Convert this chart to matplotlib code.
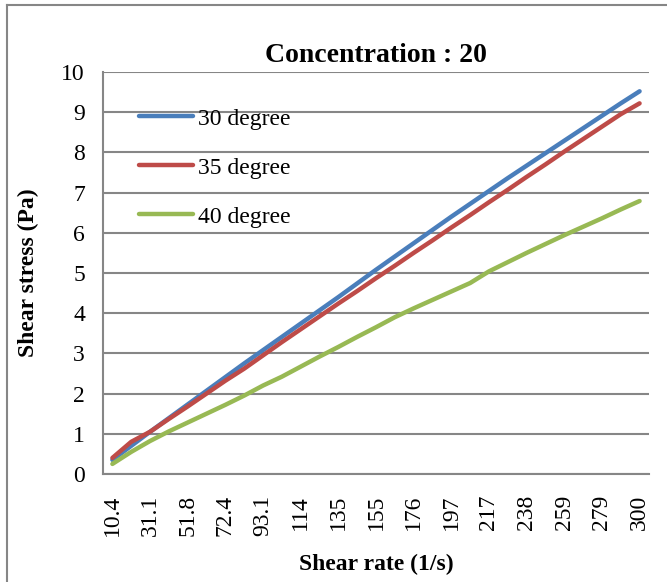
import matplotlib.pyplot as plt
from matplotlib.lines import Line2D

plt.rcParams['font.family'] = ['Liberation Serif', 'DejaVu Serif']

# shear rate categories (1/s), every other one is labelled on the axis
shear_rate = ['10.4', '20.7', '31.1', '41.4', '51.8', '62.1', '72.4', '82.8',
              '93.1', '103', '114', '124', '135', '145', '155', '166', '176',
              '186', '197', '207', '217', '228', '238', '248', '259', '269',
              '279', '290', '300']

# shear stress (Pa)
stress_30 = [0.35, 0.70, 1.05, 1.39, 1.73, 2.07, 2.41, 2.75, 3.08, 3.41,
             3.74, 4.07, 4.40, 4.74, 5.08, 5.41, 5.74, 6.07, 6.40, 6.72,
             7.04, 7.36, 7.67, 7.98, 8.29, 8.60, 8.91, 9.22, 9.52]
stress_35 = [0.40, 0.80, 1.05, 1.37, 1.68, 2.00, 2.32, 2.62, 2.95, 3.28,
             3.60, 3.92, 4.24, 4.55, 4.87, 5.18, 5.50, 5.81, 6.13, 6.44,
             6.76, 7.07, 7.39, 7.70, 8.02, 8.33, 8.64, 8.95, 9.22]
stress_40 = [0.25, 0.55, 0.82, 1.06, 1.28, 1.50, 1.72, 1.95, 2.20, 2.42,
             2.67, 2.92, 3.16, 3.41, 3.65, 3.90, 4.12, 4.33, 4.54, 4.75,
             5.04, 5.27, 5.50, 5.72, 5.94, 6.15, 6.36, 6.58, 6.79]

series = [('30 degree', stress_30, '#4a7ebb'),
          ('35 degree', stress_35, '#be4b48'),
          ('40 degree', stress_40, '#98b954')]

fig = plt.figure(figsize=(6.67, 5.82), dpi=100)
ax = fig.add_axes([0.1544, 0.1856, 0.8186, 0.6907])

x = list(range(len(shear_rate)))
for name, vals, col in series:
    ax.plot(x, vals, color=col, lw=3.2, label=name, solid_capstyle='round')

ax.set_xlim(-0.5, len(shear_rate) - 0.5)
ax.set_ylim(0, 10)
ax.set_yticks(range(0, 11))
ax.set_xticks(x[::2])
ax.set_xticklabels(shear_rate[::2], rotation=90, fontsize=17)
ax.tick_params(axis='y', labelsize=17, length=0, pad=13)
ax.tick_params(axis='x', length=0, pad=15)

ax.yaxis.grid(True, color='#868686', lw=1.5)
ax.set_axisbelow(True)
for s in ['top', 'right']:
    ax.spines[s].set_visible(False)
for s in ['left', 'bottom']:
    ax.spines[s].set_color('#868686')
    ax.spines[s].set_linewidth(1.5)

ax.set_title('Concentration : 20', fontsize=20, fontweight='bold', pad=7)
ax.set_ylabel('Shear stress (Pa)', fontsize=17, fontweight='bold', labelpad=16)
ax.set_xlabel('Shear rate (1/s)', fontsize=17, fontweight='bold', labelpad=13)

ax.legend(loc='upper left', bbox_to_anchor=(0.066, 0.91), frameon=False,
          fontsize=17, handlelength=2.3, handletextpad=0.2, labelspacing=1.16,
          borderpad=0, borderaxespad=0)

# outer chart border (cropped on the right and bottom)
fig.add_artist(Line2D([7 / 667, 7 / 667], [0, 1 - 5 / 582], color='#868686', lw=1.5))
fig.add_artist(Line2D([7 / 667, 1], [1 - 5 / 582, 1 - 5 / 582], color='#868686', lw=1.5))

fig.savefig('out.png', dpi=100)
